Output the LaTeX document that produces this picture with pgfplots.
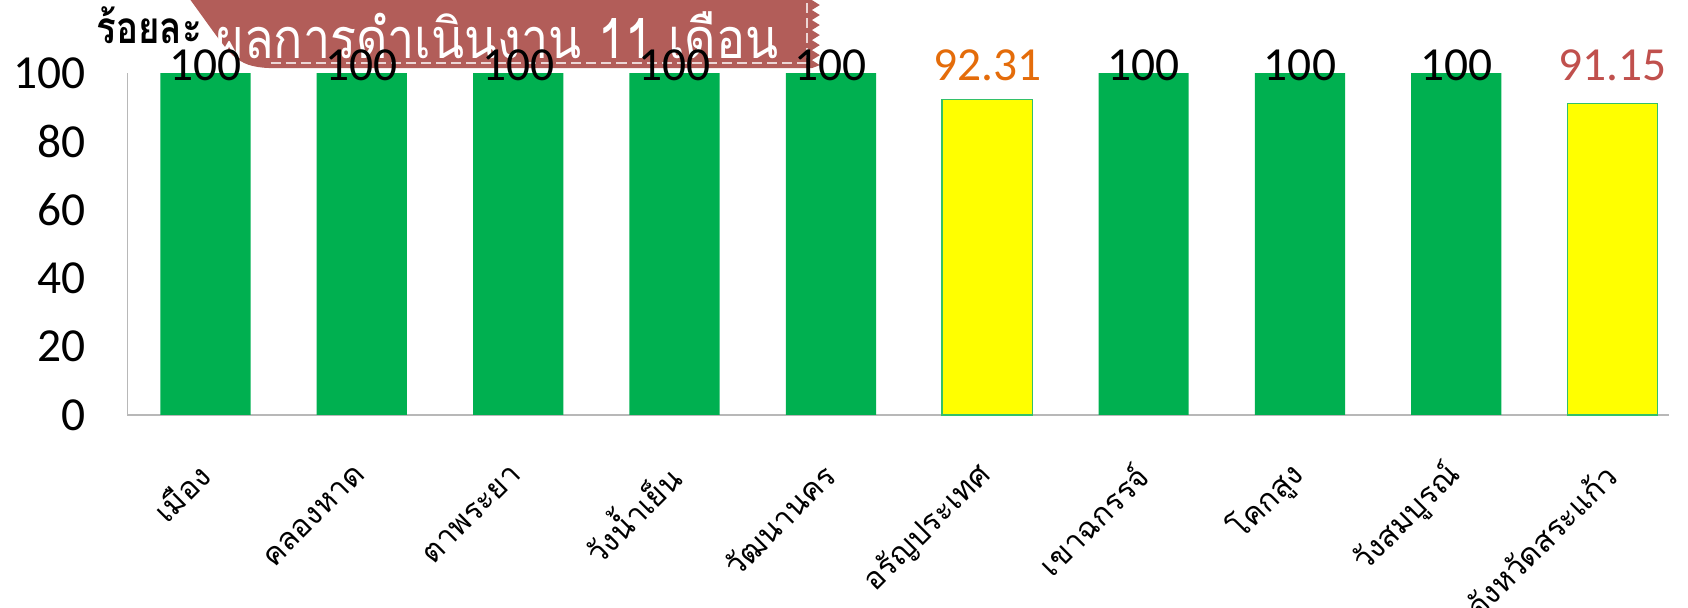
\documentclass[border=0pt]{standalone}
\usepackage{pgfplots}
\pgfplotsset{compat=1.18}
\usepackage{fontspec}
\setmainfont{Carlito}
\newfontfamily\thaifont[Script=Thai]{Loma}
\usetikzlibrary{calc}
\definecolor{bargreen}{HTML}{00B050}
\definecolor{baryellow}{HTML}{FFFF00}
\definecolor{yedge}{HTML}{33C06A}
\definecolor{banner}{HTML}{B25D59}
\definecolor{lblorange}{HTML}{E46C0A}
\definecolor{lblred}{HTML}{C0504D}

\begin{document}
\begin{tikzpicture}
\begin{axis}[
  name=ax,
  ybar, bar width=27pt, bar shift=0pt,
  scale only axis,
  width=461.4pt, height=102.3pt,
  xmin=-0.5, xmax=9.36,
  ymin=0, ymax=100,
  clip=false,
  axis x line*=bottom, axis y line*=left,
  axis line style={draw=black!28, -},
  major tick length=0pt,
  xtick={0,...,9},
  xticklabels={เมือง, คลองหาด, ตาพระยา, วังน้ำเย็น, วัฒนานคร, อรัญประเทศ, เขาฉกรรจ์, โคกสูง, วังสมบูรณ์, จังหวัดสระแก้ว},
  xticklabel style={font=\thaifont\fontsize{9.2}{10}\selectfont, xshift=2pt, yshift=-14pt, rotate=45, anchor=east},
  ytick={0,20,40,60,80,100},
  yticklabel style={font=\fontsize{14.2}{16}\selectfont, xshift=-9pt},
  /pgf/number format/assume math mode=true,
]
\addplot[fill=bargreen, draw=none] coordinates {
  (0,100) (1,100) (2,100) (3,100) (4,100) (6,100) (7,100) (8,100)
};
\addplot[fill=baryellow, draw=yedge, line width=0.4pt] coordinates {
  (5,92.31) (9,91.15)
};

% banner
\fill[banner] (-0.096,121.41) .. controls (0.045,112.61) and (0.14,106) .. (0.20,104.3)
  .. controls (0.26,102.2) and (0.33,101.47) .. (0.449,101.47)
  -- (3.878,101.47) -- (3.929,102.35) -- (3.878,103.81) -- (3.929,105.28)
  -- (3.878,106.74) -- (3.929,108.21) -- (3.878,109.68) -- (3.929,111.14)
  -- (3.878,112.61) -- (3.929,114.08) -- (3.878,115.54) -- (3.929,117.01)
  -- (3.878,118.48) -- (3.929,119.94) -- (3.878,121.41) -- cycle;
\draw[white!75!banner, line width=0.6pt, dash pattern=on 3pt off 1.5pt]
  (0.417,102.93) -- (3.846,102.93) -- (3.846,121.41);
\node[anchor=base, text=white, yscale=1.15, font=\thaifont\fontsize{14.5}{16}\selectfont] at (1.865,104.2) {ผลการดำเนินงาน 11 เดือน};
\node[anchor=base, yscale=1.2, font=\thaifont\bfseries\fontsize{11}{13}\selectfont] at (-0.359,108.6) {ร้อยละ};

% value labels
\pgfplotsinvokeforeach{0,1,2,3,4,6,7,8}{
  \node[anchor=base, font=\fontsize{14.2}{16}\selectfont] at (#1,97.95) {100};
}
\node[anchor=base, text=lblorange, font=\fontsize{14.2}{16}\selectfont] at (5,97.95) {92.31};
\node[anchor=base, text=lblred, font=\fontsize{14.2}{16}\selectfont] at (9,97.95) {91.15};
\end{axis}
\pgfresetboundingbox
\path ($(ax.south west)+(-38.1pt,-57.6pt)$) rectangle ($(ax.north east)+(5.7pt,21.9pt)$);
\end{tikzpicture}
\end{document}
